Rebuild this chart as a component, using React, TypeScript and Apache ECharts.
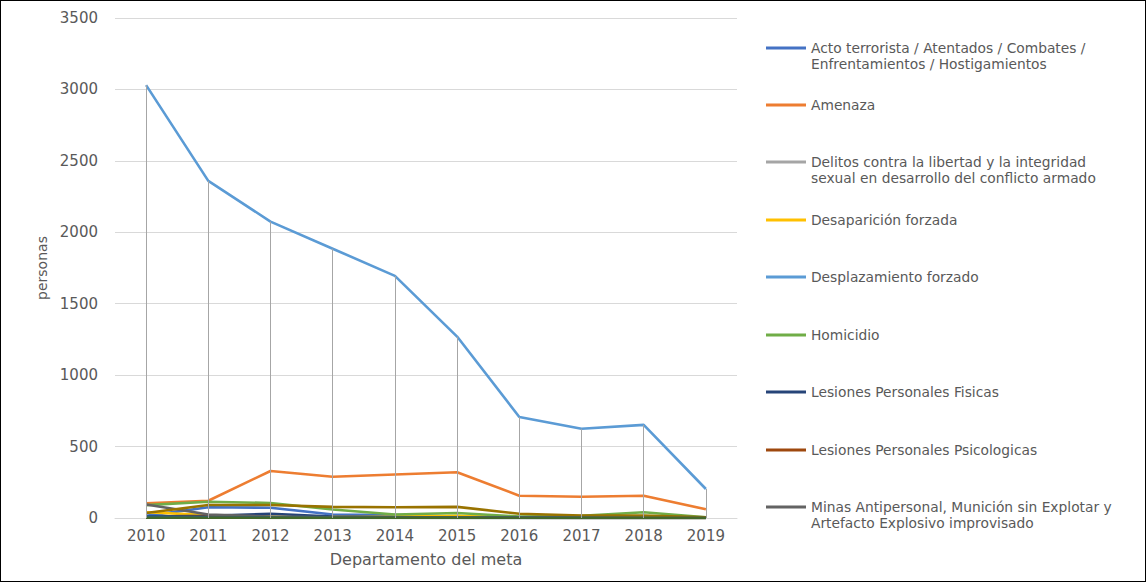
import React, { useEffect, useRef } from "react";
import * as echarts from "echarts";

const years = ["2010", "2011", "2012", "2013", "2014", "2015", "2016", "2017", "2018", "2019"];

const actoTerrorista = [15, 75, 72, 25, 20, 10, 5, 3, 4, 2];
const amenaza = [103, 121, 329, 289, 305, 320, 156, 149, 156, 61];
const delitosSexuales = [5, 3, 4, 5, 3, 4, 2, 3, 2, 1];
const desaparicion = [40, 20, 10, 8, 10, 15, 5, 3, 3, 1];
const desplazamiento = [3030, 2360, 2075, 1885, 1695, 1270, 707, 625, 652, 203];
const homicidio = [90, 114, 105, 60, 25, 35, 10, 15, 40, 5];
const lesionesFisicas = [10, 15, 30, 10, 5, 3, 2, 1, 1, 0];
const lesionesPsicologicas = [5, 8, 5, 4, 3, 2, 2, 1, 1, 0];
const minas = [95, 25, 10, 5, 3, 2, 1, 1, 1, 0];
const perdidaBienes = [35, 91, 91, 78, 75, 78, 30, 17, 18, 5];
const secuestro = [8, 5, 3, 2, 2, 1, 1, 1, 0, 0];
const sinInformacion = [2, 2, 1, 1, 1, 1, 0, 0, 0, 0];

const seriesDefs = [
  { name: "Acto terrorista / Atentados / Combates /\nEnfrentamientos / Hostigamientos", data: actoTerrorista, color: "#4472C4", legend: true },
  { name: "Amenaza", data: amenaza, color: "#ED7D31", legend: true },
  { name: "Delitos contra la libertad y la integridad\nsexual en desarrollo del conflicto armado", data: delitosSexuales, color: "#A5A5A5", legend: true },
  { name: "Desaparición forzada", data: desaparicion, color: "#FFC000", legend: true },
  { name: "Desplazamiento forzado", data: desplazamiento, color: "#5B9BD5", legend: true },
  { name: "Homicidio", data: homicidio, color: "#70AD47", legend: true },
  { name: "Lesiones Personales Fisicas", data: lesionesFisicas, color: "#264478", legend: true },
  { name: "Lesiones Personales Psicologicas", data: lesionesPsicologicas, color: "#9E480E", legend: true },
  { name: "Minas Antipersonal, Munición sin Explotar y\nArtefacto Explosivo improvisado", data: minas, color: "#636363", legend: true },
  { name: "Perdida de Bienes Muebles o Inmuebles", data: perdidaBienes, color: "#997300", legend: false },
  { name: "Secuestro", data: secuestro, color: "#255E91", legend: false },
  { name: "Sin informacion", data: sinInformacion, color: "#43682B", legend: false },
];

const legendLineY = [47, 104, 161, 219, 276, 334, 391, 449, 506];

export default function App() {
  const ref = useRef<HTMLDivElement>(null);
  useEffect(() => {
    if (!ref.current) return;
    const chart = echarts.init(ref.current, undefined, { renderer: "svg" });
    const font = "'DejaVu Sans', sans-serif";
    const maxPerYear = years.map((_, i) => Math.max(...seriesDefs.map((s) => s.data[i])));
    const dropLines = years.map((_, i) => [
      { coord: [i, maxPerYear[i]] },
      { coord: [i, 0] },
    ]);
    const legendItems = seriesDefs.filter((s) => s.legend);
    const twoLineIcon =
      "path://M0,0h0.01v0.01h-0.01Z M0,6.5H40V9.5H0Z M0,31.99h0.01v0.01h-0.01Z";
    const legends = legendItems.map((s, k) => {
      const twoLines = s.name.indexOf("\n") >= 0;
      return {
        show: true,
        data: [s.name],
        orient: "vertical",
        left: 765,
        top: legendLineY[k] - 8,
        padding: 0,
        icon: twoLines ? twoLineIcon : "rect",
        itemWidth: 40,
        itemHeight: twoLines ? 32 : 3,
        itemStyle: { borderWidth: 0 },
        selectedMode: false,
        textStyle: { color: "#595959", fontSize: 13.8, fontFamily: font, lineHeight: 16 },
      };
    });
    const series: any[] = [
      {
        type: "line",
        name: "__drop",
        data: [],
        silent: true,
        markLine: {
          silent: true,
          symbol: "none",
          label: { show: false },
          lineStyle: { color: "#A6A6A6", width: 1, type: "solid" },
          emphasis: { disabled: true },
          data: dropLines,
        },
        z: 1,
      },
      ...seriesDefs.map((s) => ({
        type: "line",
        name: s.name,
        data: s.data,
        symbol: "none",
        lineStyle: { color: s.color, width: 2.6 },
        itemStyle: { color: s.color },
        z: 2,
      })),
    ];
    chart.setOption({
      animation: false,
      backgroundColor: "#ffffff",
      legend: legends,
      grid: { left: 114, right: 408, top: 17, bottom: 63, containLabel: false },
      xAxis: {
        type: "category",
        data: years,
        boundaryGap: true,
        name: "Departamento del meta",
        nameLocation: "middle",
        nameGap: 33,
        nameTextStyle: { color: "#595959", fontSize: 16, fontFamily: font },
        axisLine: { show: true, lineStyle: { color: "#D9D9D9", width: 1 } },
        axisTick: { show: false },
        axisLabel: { color: "#595959", fontSize: 15, fontFamily: font, margin: 10 },
        splitLine: { show: false },
      },
      yAxis: {
        type: "value",
        min: 0,
        max: 3500,
        interval: 500,
        name: "personas",
        nameLocation: "middle",
        nameGap: 62,
        nameRotate: 90,
        nameTextStyle: { color: "#595959", fontSize: 14, fontFamily: font },
        axisLine: { show: false },
        axisTick: { show: false },
        axisLabel: {
          color: "#595959",
          fontSize: 15,
          fontFamily: font,
          margin: 17,
          formatter: (v: number) => String(v),
        },
        splitLine: { show: true, lineStyle: { color: "#D9D9D9", width: 1 } },
      },
      series,
    });
    return () => chart.dispose();
  }, []);
  return (
    <div
      style={{
        position: "fixed",
        left: 0,
        top: 0,
        width: 1146,
        height: 582,
        border: "1px solid #000",
        boxSizing: "border-box",
        background: "#fff",
      }}
    >
      <div ref={ref} style={{ width: 1144, height: 580 }} />
    </div>
  );
}
